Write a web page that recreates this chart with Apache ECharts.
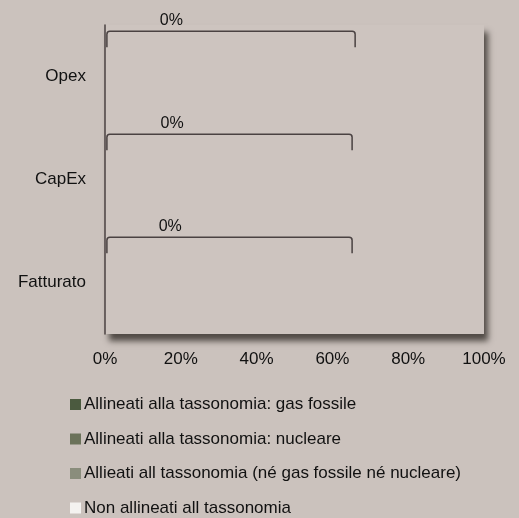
<!DOCTYPE html>
<html>
<head>
<meta charset="utf-8">
<script src="https://cdn.jsdelivr.net/npm/echarts@6/dist/echarts.min.js"></script>
<style>
html,body{margin:0;padding:0;background:#cbc2bd;}
#main{width:519px;height:518px;}
</style>
</head>
<body>
<div id="main"></div>
<script>
const categories = ['Opex', 'CapEx', 'Fatturato'];
const seriesNames = [
  'Allineati alla tassonomia: gas fossile',
  'Allineati alla tassonomia: nucleare',
  'Allieati all tassonomia (né gas fossile né nucleare)',
  'Non allineati all tassonomia'
];
const gasFossile = [0, 0, 0];
const nucleare = [0, 0, 0];
const altriAllineati = [0, 0, 0];
const nonAllineati = [0, 0, 0];
const bracketStart = [0.5, 0.5, 0.5];
const bracketEnd = [66, 65.2, 65.2];
const bracketLabelPos = [17.5, 17.7, 17.2];
const bracketLabels = ['0%', '0%', '0%'];
const xTicks = [0, 20, 40, 60, 80, 100];

const colors = ['#4b5a3f', '#6b725a', '#8a8d7c', '#f4f2f0'];
const FONT = "'Liberation Sans', Arial, sans-serif";

const chart = echarts.init(document.getElementById('main'), null, {renderer: 'canvas'});

const barData = [gasFossile, nucleare, altriAllineati, nonAllineati];
const series = seriesNames.map((n, i) => ({
  name: n,
  type: 'bar',
  stack: 'tot',
  barWidth: 40,
  itemStyle: {color: colors[i]},
  data: barData[i]
}));

series.push({
  type: 'custom',
  name: 'bracket',
  silent: true,
  data: categories.map((c, i) => [bracketStart[i], bracketEnd[i], i, bracketLabelPos[i]]),
  encode: {x: [0, 1], y: 2},
  renderItem: function (params, api) {
    const p0 = api.coord([api.value(0), api.value(2)]);
    const p1 = api.coord([api.value(1), api.value(2)]);
    const pl = api.coord([api.value(3), api.value(2)]);
    const band = api.size([0, 1])[1];
    const yTop = p0[1] - band * 0.44;
    const h = 16;
    const r = 3;
    const x0 = p0[0], x1 = p1[0];
    return {
      type: 'group',
      children: [{
        type: 'path',
        shape: {
          pathData: 'M' + x0 + ' ' + (yTop + h) +
            ' L' + x0 + ' ' + (yTop + r) +
            ' Q' + x0 + ' ' + yTop + ' ' + (x0 + r) + ' ' + yTop +
            ' L' + (x1 - r) + ' ' + yTop +
            ' Q' + x1 + ' ' + yTop + ' ' + x1 + ' ' + (yTop + r) +
            ' L' + x1 + ' ' + (yTop + h)
        },
        style: {fill: null, stroke: '#4a4242', lineWidth: 1.5}
      }, {
        type: 'text',
        x: pl[0],
        y: yTop - 11,
        style: {
          text: bracketLabels[params.dataIndex],
          fill: '#111',
          font: '16px ' + FONT,
          align: 'center',
          verticalAlign: 'middle'
        }
      }]
    };
  },
  z: 5
});

chart.setOption({
  backgroundColor: '#cbc2bd',
  animation: false,
  textStyle: {fontFamily: FONT},
  grid: {
    left: 105, right: 35, top: 25, bottom: 184,
    show: true,
    backgroundColor: '#cdc4bf',
    borderWidth: 0,
    shadowColor: 'rgba(40,35,30,0.75)',
    shadowBlur: 6,
    shadowOffsetX: 4,
    shadowOffsetY: 7
  },
  legend: {
    orient: 'vertical',
    left: 65,
    top: 391,
    height: 130,
    itemWidth: 11,
    itemHeight: 11,
    itemGap: 17.5,
    icon: 'rect',
    data: seriesNames,
    textStyle: {fontSize: 17, color: '#111', fontFamily: FONT, lineHeight: 17, padding: [0, 0, 0, -2]}
  },
  xAxis: {
    type: 'value',
    min: xTicks[0],
    max: xTicks[xTicks.length - 1],
    interval: 20,
    axisLine: {show: false},
    axisTick: {show: false},
    splitLine: {show: false},
    axisLabel: {
      formatter: v => v + '%',
      fontSize: 17,
      color: '#111',
      margin: 17
    }
  },
  yAxis: {
    type: 'category',
    inverse: true,
    data: categories,
    axisLine: {show: true, lineStyle: {color: '#4a4242', width: 1.5}},
    axisTick: {show: false},
    axisLabel: {fontSize: 17, color: '#111', margin: 19}
  },
  series: series
});
</script>
</body>
</html>
